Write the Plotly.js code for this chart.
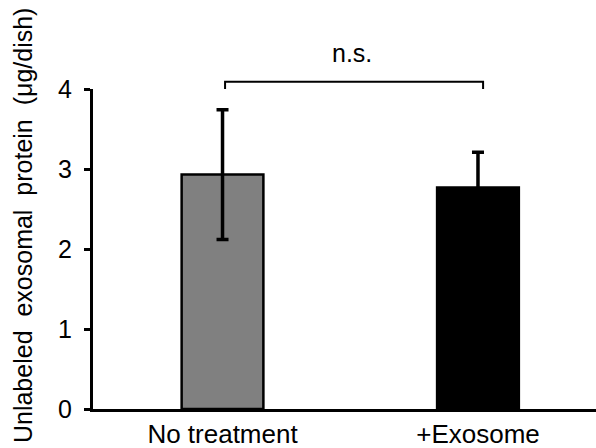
<!DOCTYPE html>
<html>
<head>
<meta charset="utf-8">
<script src="https://cdn.plot.ly/plotly-3.0.1.min.js"></script>
<style>html,body{margin:0;padding:0;background:#fff;}#chart{width:596px;height:448px;}</style>
</head>
<body>
<div id="chart"></div>
<script>
const categories = ["No treatment", "+Exosome"];
const means = [2.93, 2.77];
const errors = [0.81, 0.44];
const barColors = ["#808080", "#000000"];
const yTicks = [0, 1, 2, 3, 4];
const sigLabel = "n.s.";
const yTitle = "Unlabeled  exosomal  protein  (μg/dish)";

const trace = {
  type: "bar",
  x: [0, 1],
  y: means,
  width: 0.32,
  marker: {color: barColors, line: {color: "#000", width: 2.5}},
  error_y: {type: "data", array: errors, visible: true, color: "#000", thickness: 3.5, width: 6},
  hoverinfo: "none"
};

const layout = {
  width: 596, height: 448,
  margin: {l: 93, r: 0, t: 89, b: 39},
  paper_bgcolor: "#fff", plot_bgcolor: "#fff",
  showlegend: false,
  font: {family: "Liberation Sans, Arial, sans-serif", color: "#000"},
  xaxis: {
    range: [-0.507, 1.462],
    tickmode: "array", tickvals: [0, 1], ticktext: categories,
    ticks: "", showgrid: false, zeroline: false,
    showline: true, linecolor: "#000", linewidth: 3,
    tickfont: {size: 26}, ticklabelstandoff: 0
  },
  yaxis: {
    range: [0, 4],
    tickmode: "array", tickvals: yTicks, ticktext: yTicks.map(String),
    ticks: "outside", ticklen: 6, tickwidth: 3, tickcolor: "#000",
    showgrid: false, zeroline: false,
    showline: true, linecolor: "#000", linewidth: 3,
    tickfont: {size: 25}, ticklabelstandoff: 7
  },
  shapes: [{
    type: "path", xref: "x", yref: "paper",
    path: "M 0.01 1.0 L 0.01 1.023 L 1.02 1.023 L 1.02 1.0",
    line: {color: "#000", width: 2}
  }],
  annotations: [{
    xref: "paper", yref: "paper", x: 0.515, y: 1.062,
    text: sigLabel, showarrow: false, font: {size: 25}, yanchor: "bottom"
  }, {
    xref: "paper", yref: "paper", x: -0.139, y: 0.572,
    xanchor: "center", yanchor: "middle", textangle: -90,
    text: yTitle, showarrow: false, font: {size: 25}
  }]
};

Plotly.newPlot("chart", [trace], layout, {displayModeBar: false, staticPlot: true});
</script>
</body>
</html>
